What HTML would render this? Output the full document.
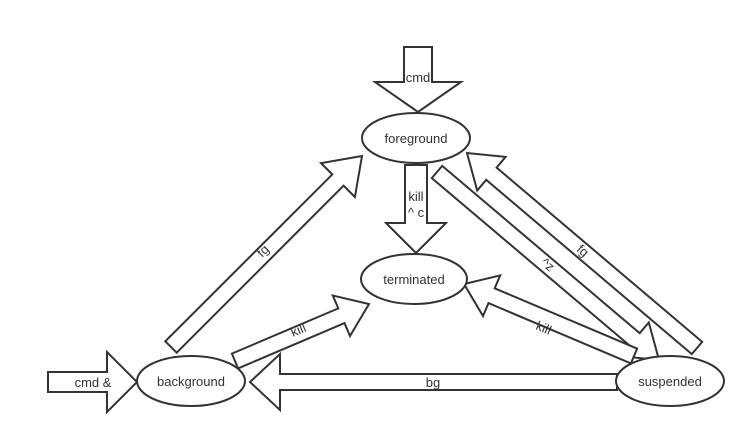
<!DOCTYPE html>
<html><head><meta charset="utf-8"><style>
html,body{margin:0;padding:0;background:#fff}
svg{display:block}
text{font-family:"Liberation Sans",sans-serif;font-size:13px;fill:#333}
</style></head><body>
<svg id="s" width="756" height="445" viewBox="0 0 756 445" xmlns="http://www.w3.org/2000/svg">
<g id="arrows" fill="#fff" stroke="#333" stroke-width="2" stroke-linejoin="miter"></g>
<g fill="#fff" stroke="#333" stroke-width="2">
<ellipse cx="416" cy="138" rx="54" ry="25"/>
<ellipse cx="414" cy="279" rx="53" ry="25"/>
<ellipse cx="191" cy="381" rx="54" ry="25"/>
<ellipse cx="670" cy="381" rx="54" ry="25"/>
</g>
<text x="416" y="143" text-anchor="middle">foreground</text>
<text x="414" y="284" text-anchor="middle">terminated</text>
<text x="191" y="386" text-anchor="middle">background</text>
<text x="670" y="386" text-anchor="middle">suspended</text>
<text x="418" y="82" text-anchor="middle">cmd</text>
<text x="416" y="201" text-anchor="middle">kill</text>
<text x="416" y="217" text-anchor="middle">^ c</text>
<text x="93" y="387" text-anchor="middle">cmd &amp;</text>
<text x="433" y="387" text-anchor="middle">bg</text>
<text x="0" y="0" text-anchor="middle" transform="translate(266,254) rotate(-45)">fg</text>
<text x="0" y="0" text-anchor="middle" transform="translate(300,334) rotate(-23)">kill</text>
<text x="0" y="0" text-anchor="middle" transform="translate(545,268) rotate(40)">^z</text>
<text x="0" y="0" text-anchor="middle" transform="translate(580,254) rotate(40)">fg</text>
<text x="0" y="0" text-anchor="middle" transform="translate(542,332) rotate(23)">kill</text>
</svg>
<script>
var A=[
 [418,47,418,112,14,43,30],
 [416,165,416,253,11,30,30],
 [48,382,137,382,10,30,30],
 [617,382,250,382,8,28,30],
 [171,347,362,156,8,24,34],
 [235,361,369,304,8,22,30],
 [437,172,659,360,8,22,32],
 [697,348,467,153,8,22,32],
 [634,356,464,284,8,22,30]
];
var g=document.getElementById('arrows');
A.forEach(function(a){
 var x1=a[0],y1=a[1],x2=a[2],y2=a[3],w=a[4],h=a[5],L=a[6];
 var dx=x2-x1,dy=y2-y1,len=Math.hypot(dx,dy),ux=dx/len,uy=dy/len,nx=-uy,ny=ux;
 var bx=x2-ux*L,by=y2-uy*L;
 var p=[[x1+nx*w,y1+ny*w],[bx+nx*w,by+ny*w],[bx+nx*h,by+ny*h],[x2,y2],[bx-nx*h,by-ny*h],[bx-nx*w,by-ny*w],[x1-nx*w,y1-ny*w]];
 var el=document.createElementNS('http://www.w3.org/2000/svg','polygon');
 el.setAttribute('points',p.map(function(q){return q[0].toFixed(1)+','+q[1].toFixed(1)}).join(' '));
 g.appendChild(el);
});
</script>
</body></html>
